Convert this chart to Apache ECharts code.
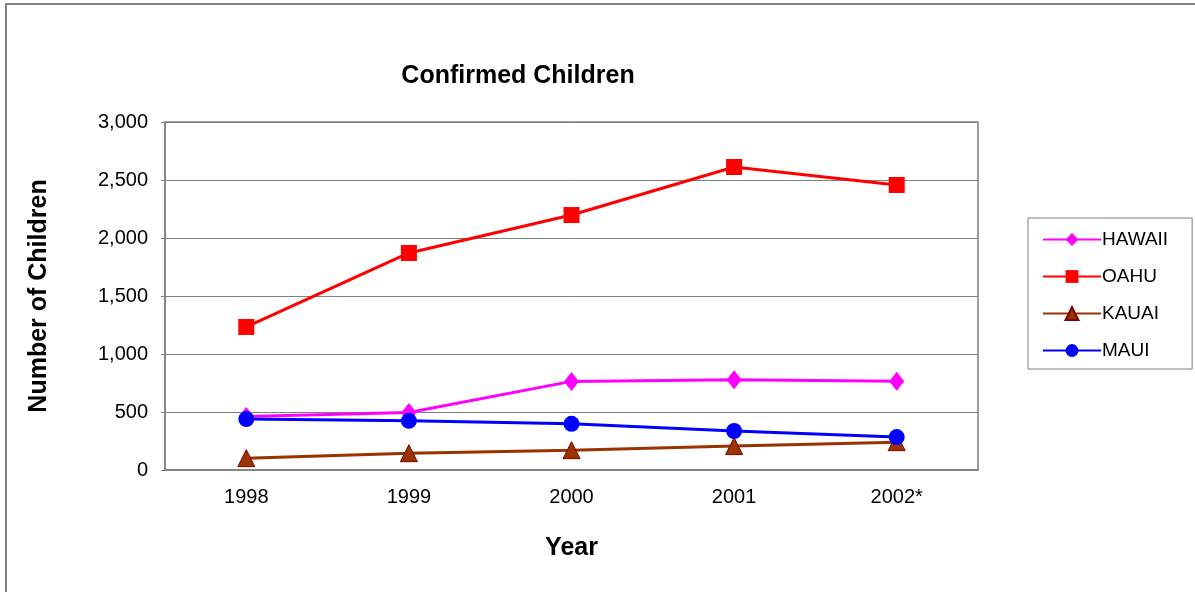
<!DOCTYPE html>
<html>
<head>
<meta charset="utf-8">
<script src="https://cdn.jsdelivr.net/npm/echarts@6/dist/echarts.min.js"></script>
<style>
html,body{margin:0;padding:0;background:#fff;}
#chart{width:1195px;height:592px;}
</style>
</head>
<body>
<div id="chart"></div>
<script>
var years = ['1998', '1999', '2000', '2001', '2002*'];
var hawaii = [462, 495, 764, 779, 766];
var oahu = [1233, 1871, 2198, 2612, 2457];
var kauai = [102, 145, 171, 206, 240];
var maui = [439, 424, 398, 336, 284];
var yTicks = [0, 500, 1000, 1500, 2000, 2500, 3000];

var font = '"Liberation Sans", Arial, sans-serif';
var chart = echarts.init(document.getElementById('chart'));
function fmt(v){ return v.toString().replace(/\B(?=(\d{3})+(?!\d))/g, ','); }

chart.setOption({
  animation: false,
  backgroundColor: '#fff',
  textStyle: { fontFamily: font },
  graphic: [{
    type: 'rect', shape: { x: 6, y: 4, width: 1300, height: 700 },
    style: { fill: 'none', stroke: '#808080', lineWidth: 2 }, silent: true
  }],
  title: {
    text: 'Confirmed Children', left: 513, top: 59, textAlign: 'center',
    textStyle: { fontFamily: font, fontSize: 25, fontWeight: 'bold', color: '#000' }
  },
  legend: {
    orient: 'vertical', left: 1028, top: 218,
    padding: [12, 24, 9, 14], itemGap: 18, itemWidth: 58, itemHeight: 16,
    borderColor: '#808080', borderWidth: 1,
    textStyle: { fontFamily: font, fontSize: 19, color: '#000', padding: [0, 0, 0, -4] },
    data: ['HAWAII', 'OAHU', 'KAUAI', 'MAUI']
  },
  grid: { left: 165, top: 122, width: 813, height: 348, containLabel: false,
          show: true, borderColor: '#808080', borderWidth: 1.5 },
  xAxis: {
    type: 'category', data: years, boundaryGap: true,
    name: 'Year', nameLocation: 'middle', nameGap: 66,
    nameTextStyle: { fontFamily: font, fontSize: 25, fontWeight: 'bold', color: '#000' },
    axisLine: { lineStyle: { color: '#808080', width: 1.5 } },
    axisTick: { inside: true, length: 6, lineStyle: { color: '#808080' } },
    axisLabel: { fontFamily: font, fontSize: 20, color: '#000', margin: 17 }
  },
  yAxis: {
    type: 'value', min: 0, max: 3000, interval: 500,
    name: 'Number of Children', nameLocation: 'middle', nameGap: 113, nameRotate: 90,
    nameTextStyle: { fontFamily: font, fontSize: 25, fontWeight: 'bold', color: '#000' },
    axisLine: { show: true, lineStyle: { color: '#808080', width: 1.5 } },
    axisTick: { show: true, length: 4, lineStyle: { color: '#808080' } },
    axisLabel: { fontFamily: font, fontSize: 20, color: '#000', margin: 17,
      formatter: function(v){ return yTicks.indexOf(v) >= 0 ? fmt(v) : ''; } },
    splitLine: { lineStyle: { color: '#808080', width: 1 } }
  },
  series: [
    { name: 'HAWAII', type: 'line', data: hawaii, symbol: 'diamond', symbolSize: [15, 19],
      lineStyle: { color: '#FF00FF', width: 3 }, itemStyle: { color: '#FF00FF' } },
    { name: 'OAHU', type: 'line', data: oahu, symbol: 'rect', symbolSize: 16,
      lineStyle: { color: '#FF0000', width: 3 }, itemStyle: { color: '#FF0000' } },
    { name: 'KAUAI', type: 'line', data: kauai, symbol: 'triangle', symbolSize: 17,
      lineStyle: { color: '#993300', width: 3 },
      itemStyle: { color: '#993300', borderColor: '#800000', borderWidth: 1 } },
    { name: 'MAUI', type: 'line', data: maui, symbol: 'circle', symbolSize: 16,
      lineStyle: { color: '#0000FF', width: 3 }, itemStyle: { color: '#0000FF' } }
  ]
});
</script>
</body>
</html>
